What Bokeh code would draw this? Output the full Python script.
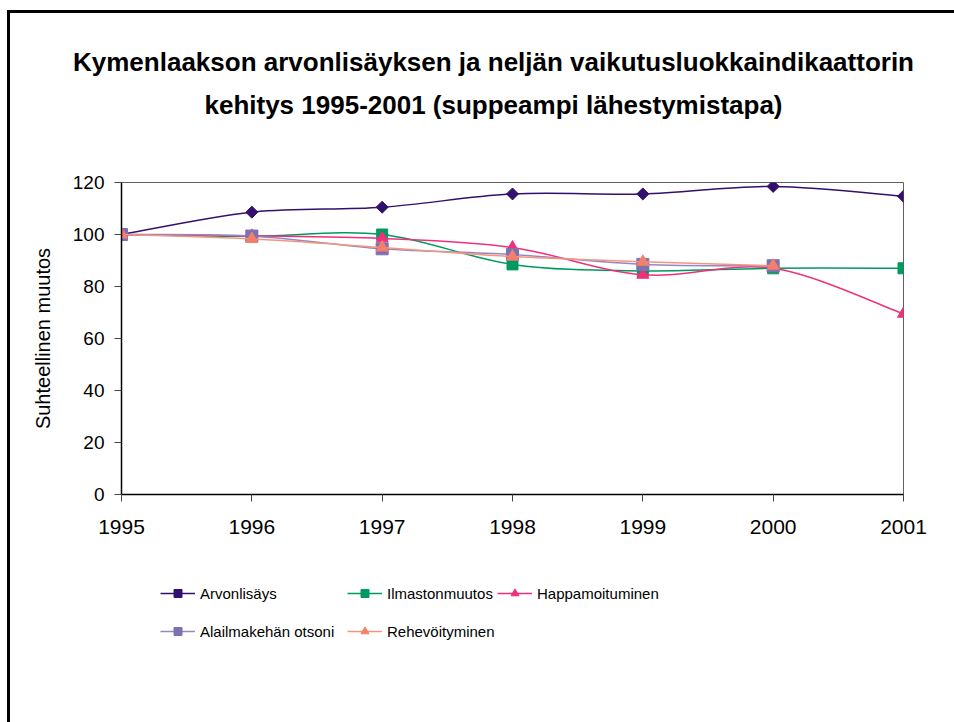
from bokeh.plotting import figure
from bokeh.layouts import column
from bokeh.models import (ColumnDataSource, Range1d, FixedTicker, Legend,
                          LegendItem, Div)
from bokeh.embed import file_html
from bokeh.resources import INLINE
import math

# ---------------- data ----------------
years = [1995, 1996, 1997, 1998, 1999, 2000, 2001]
arvonlisays = [100, 108.6, 110.5, 115.6, 115.6, 118.5, 114.7]
ilmastonmuutos = [100, 99.3, 100.0, 88.5, 86.0, 87.0, 87.0]
happamoituminen = [100, 99.5, 98.5, 95.0, 84.5, 87.0, 69.5]
alailmakehan_otsoni = [100, 99.4, 94.5, 92.3, 88.5, 88.0]
rehevoityminen = [100, 98.3, 95.0, 91.5, 89.5, 88.0]

series_names = ["Arvonlisäys", "Ilmastonmuutos", "Happamoituminen",
                "Alailmakehän otsoni", "Rehevöityminen"]
y_ticks = [0, 20, 40, 60, 80, 100, 120]
title_lines = ["Kymenlaakson arvonlisäyksen ja neljän vaikutusluokkaindikaattorin",
               "kehitys 1995-2001 (suppeampi lähestymistapa)"]
y_label = "Suhteellinen muutos"

# ---------------- styles ----------------
line_colors = ["#33106E", "#00995F", "#F0307A", "#9288C4", "#F6957F"]
marker_colors = ["#33106E", "#00995F", "#F0307A", "#7F71B0", "#F4806A"]
markers = ["square", "square", "triangle", "square", "triangle"]
marker_sizes = [8.5, 11, 12, 12, 12]
marker_angles = [math.pi / 4, 0, 0, 0, 0]
# legend item positions relative to the plot frame's bottom-left (px)
legend_pos = [(39, 119), (226, 119), (376, 119), (39, 81), (226, 81)]
W = 954
H_TITLE, H_MAIN, H_LEG = 150, 410, 162


def bezier_source(xs, ys):
    n = len(xs)
    d = dict(x0=[], y0=[], x1=[], y1=[], cx0=[], cy0=[], cx1=[], cy1=[])
    for i in range(n - 1):
        im, i2 = max(i - 1, 0), min(i + 2, n - 1)
        d["x0"].append(xs[i]); d["y0"].append(ys[i])
        d["x1"].append(xs[i + 1]); d["y1"].append(ys[i + 1])
        d["cx0"].append(xs[i] + (xs[i + 1] - xs[im]) / 6)
        d["cy0"].append(ys[i] + (ys[i + 1] - ys[im]) / 6)
        d["cx1"].append(xs[i + 1] - (xs[i2] - xs[i]) / 6)
        d["cy1"].append(ys[i + 1] - (ys[i2] - ys[i]) / 6)
    return ColumnDataSource(d)


# ---------------- title ----------------
title_html = (
    '<div style="padding-top:41px;padding-left:73px;text-align:center;'
    "font-family:'Liberation Sans',Arial,sans-serif;font-weight:bold;"
    'font-size:26px;line-height:43px;color:#000;white-space:nowrap;">'
    + title_lines[0] + "<br>" + title_lines[1] + "</div>"
)
title_div = Div(text=title_html, width=W, height=H_TITLE, margin=0)

# ---------------- main chart ----------------
p = figure(width=W, height=H_MAIN, output_backend="svg", toolbar_location=None,
           x_range=Range1d(1995, 2001), y_range=Range1d(0, 120), title=None,
           min_border_left=121, min_border_right=51, min_border_top=32,
           min_border_bottom=66)
p.background_fill_color = "white"
p.border_fill_color = "white"
p.outline_line_color = "#606060"
p.outline_line_width = 1
p.xgrid.visible = False
p.ygrid.visible = False

for ax in (p.xaxis[0], p.yaxis[0]):
    ax.axis_line_color = "black"
    ax.axis_line_width = 1.5
    ax.major_tick_line_color = "#444444"
    ax.major_tick_in = 0
    ax.major_tick_out = 7
    ax.minor_tick_line_color = None
    ax.major_label_text_color = "black"
    ax.major_label_text_font = "Liberation Sans"

p.xaxis.ticker = FixedTicker(ticks=years)
p.xaxis.major_label_text_font_size = "21px"
p.xaxis.major_label_standoff = 18
p.yaxis.ticker = FixedTicker(ticks=y_ticks)
p.yaxis.major_label_text_font_size = "19px"
p.yaxis.major_label_standoff = 10
p.yaxis.axis_label = y_label
p.yaxis.axis_label_text_font = "Liberation Sans"
p.yaxis.axis_label_text_font_style = "normal"
p.yaxis.axis_label_text_font_size = "20px"
p.yaxis.axis_label_text_color = "black"
p.yaxis.axis_label_standoff = 16

all_series = [arvonlisays, ilmastonmuutos, happamoituminen,
              alailmakehan_otsoni, rehevoityminen]

# ---------------- legend strip (its frame is aligned with the chart's) ----------
pl = figure(width=W, height=H_LEG, output_backend="svg", toolbar_location=None,
            x_range=Range1d(0, 1), y_range=Range1d(0, 1), title=None,
            min_border_left=121, min_border_right=51, min_border_top=0,
            min_border_bottom=0, x_axis_location=None, y_axis_location=None)
pl.grid.visible = False
pl.outline_line_color = None
pl.background_fill_color = "white"
pl.border_fill_color = "white"

for k, ys in enumerate(all_series):
    xs = years[:len(ys)]
    src = bezier_source(xs, ys)
    p.bezier(x0="x0", y0="y0", x1="x1", y1="y1", cx0="cx0", cy0="cy0",
             cx1="cx1", cy1="cy1", source=src, line_color=line_colors[k],
             line_width=1.5)
    p.scatter(xs, ys, marker=markers[k], size=marker_sizes[k],
              angle=marker_angles[k], fill_color=marker_colors[k],
              line_color=marker_colors[k], line_width=1)
    # legend-sample renderers: same series, lying outside this strip's ranges
    lr = pl.line(xs, ys, line_color=line_colors[k], line_width=1.5)
    mr = pl.scatter(xs, ys, marker=markers[k], angle=marker_angles[k],
                    size=marker_sizes[k], fill_color=marker_colors[k],
                    line_color=marker_colors[k])
    lg = Legend(items=[LegendItem(label=series_names[k], renderers=[lr, mr])],
                location=legend_pos[k], orientation="horizontal",
                glyph_width=35, glyph_height=20, label_standoff=5,
                padding=0, margin=0, spacing=0, border_line_color=None,
                background_fill_alpha=0, label_text_font="Liberation Sans",
                label_text_font_size="15px", label_text_color="black")
    pl.add_layout(lg, "center")

layout = column(title_div, p, pl, spacing=0, stylesheets=[
    ":host::before { content: ''; position: absolute; left: 7px; top: 10px; "
    "right: 0px; bottom: 0px; border-left: 3px solid black; "
    "border-top: 3px solid black; z-index: 100; pointer-events: none; }"
])

open("out.html", "w").write(file_html(layout, INLINE))
